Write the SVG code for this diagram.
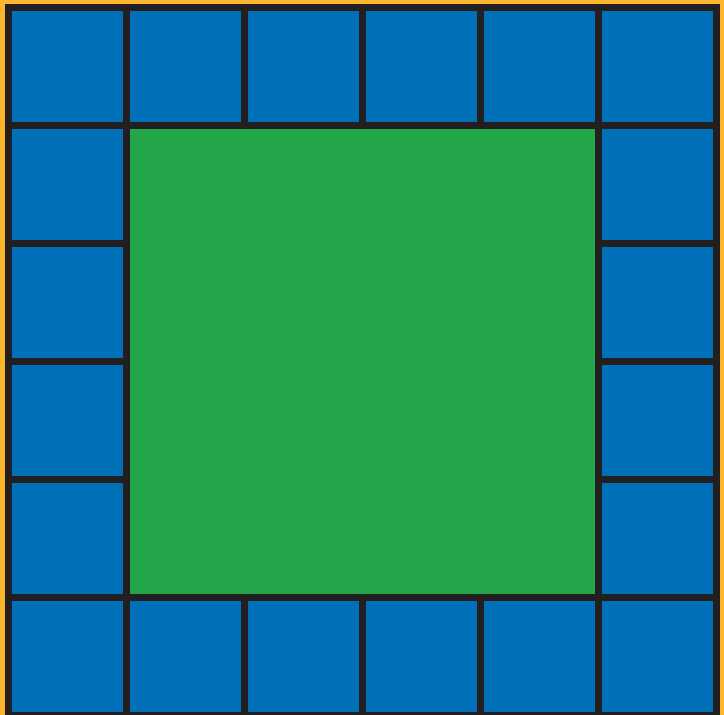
<svg xmlns="http://www.w3.org/2000/svg" width="724" height="715" viewBox="0 0 724 715">
<style>
.bg{fill:#fbb62e}
.tile{fill:#0070b9}
.center{fill:#23a54a}
.ln{stroke:#231f20;stroke-width:7;fill:none;stroke-linecap:square}
</style>
<rect class="bg" x="0" y="0" width="724" height="715"/>
<g id="tiles">
<rect class="tile" x="8.5" y="7.5" width="708" height="708"/>
</g>
<g id="center-square">
<rect class="center" x="126.5" y="125.5" width="472" height="472"/>
</g>
<g id="grid-lines">
<rect class="ln" x="8.5" y="7.5" width="708" height="708" style="stroke-linecap:butt"/>
<path class="ln" d="M8.5 125.5H716.5M8.5 597.5H716.5M126.5 7.5V715.5M598.5 7.5V715.5"/>
<path class="ln" d="M244.5 7.5V125.5M362.5 7.5V125.5M480.5 7.5V125.5M244.5 597.5V715.5M362.5 597.5V715.5M480.5 597.5V715.5"/>
<path class="ln" d="M8.5 243.5H126.5M8.5 361.5H126.5M8.5 479.5H126.5M598.5 243.5H716.5M598.5 361.5H716.5M598.5 479.5H716.5"/>
</g>
</svg>
